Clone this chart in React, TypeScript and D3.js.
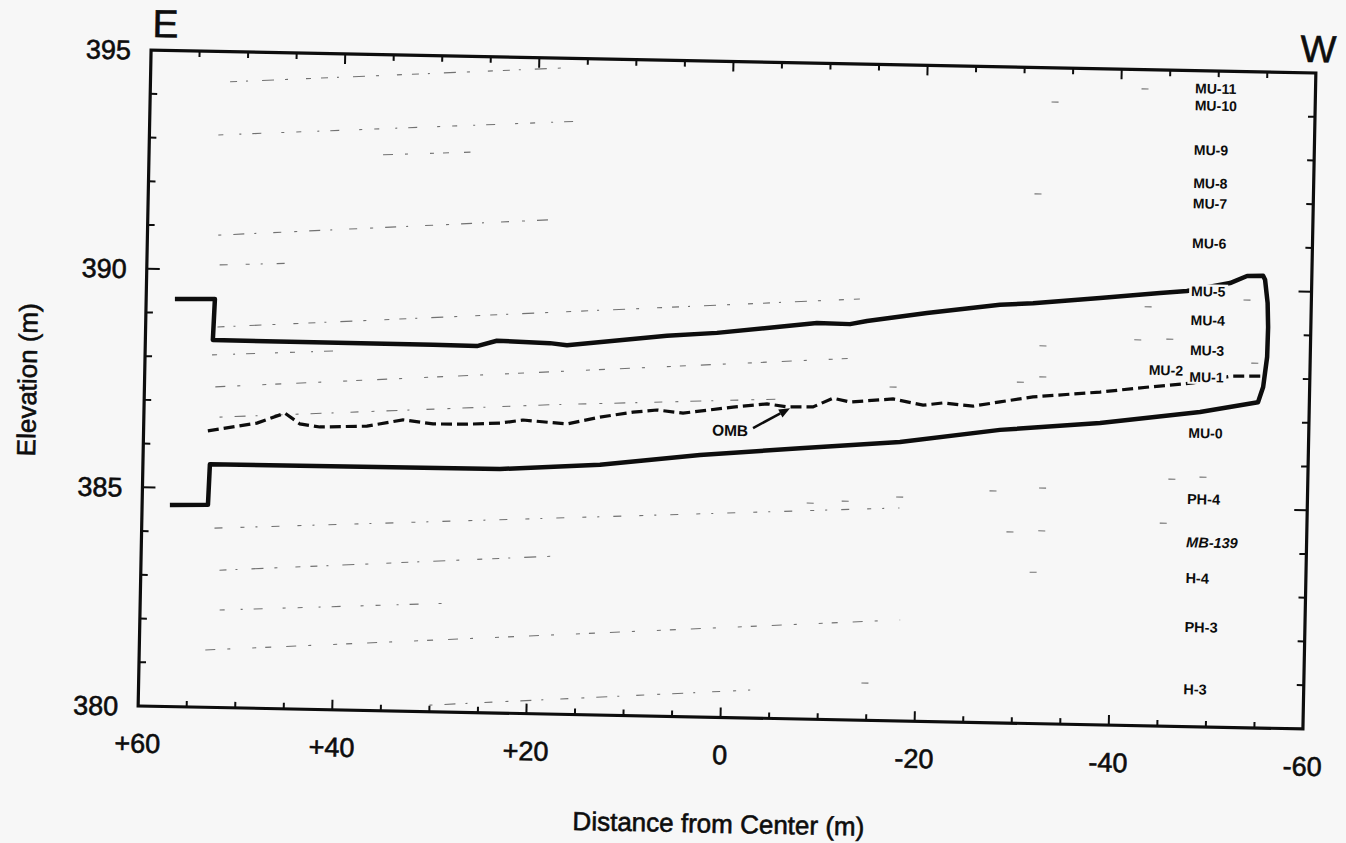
import React from "react";
import * as d3 from "d3";

// Axis ticks and their labels
const X_TICKS = [60, 40, 20, 0, -20, -40, -60];
const X_TICK_LABELS = ["+60", "+40", "+20", "0", "-20", "-40", "-60"];
const Y_TICKS = [380, 385, 390, 395];
const Y_TICK_LABELS = ["380", "385", "390", "395"];

// Excavated room outline: roof (E -> W), rounded west face, floor (W -> E)
const ROOF: [number, number][] = [
  [57.04, 389.32], [52.92, 389.34], [53.05, 388.40], [30.38, 388.39], [25.84, 388.38],
  [23.8, 388.51], [18.33, 388.48], [16.57, 388.44], [6.29, 388.7], [1.15, 388.79],
  [-5.02, 388.95], [-9.13, 389.06], [-12.53, 389.05], [-14.28, 389.13], [-20.44, 389.34],
  [-27.94, 389.56], [-31.34, 389.61], [-38.23, 389.76], [-44.4, 389.9], [-47.17, 389.96],
  [-51.59, 390.16], [-53.33, 390.33], [-54.98, 390.34],
];
const WEST_FACE: [number, number][] = [
  [-55.19, 390.25], [-55.5, 389.72], [-55.6, 389.17], [-55.56, 388.49], [-55.21, 387.8], [-54.71, 387.45],
];
const FLOOR: [number, number][] = [
  [-48.76, 387.2], [-38.49, 386.9], [-28.2, 386.7], [-17.92, 386.38], [-7.64, 386.19],
  [2.65, 385.99], [12.93, 385.72], [23.22, 385.58], [53.1, 385.56], [53.22, 384.63], [57.14, 384.61],
];

// OMB marker horizon
const OMB: [number, number][] = [
  [53.38, 386.32], [48.34, 386.52], [45.48, 386.76], [43.91, 386.52], [41.85, 386.46],
  [37.01, 386.5], [33.31, 386.66], [30.21, 386.58], [26.71, 386.59], [23.31, 386.63],
  [20.95, 386.71], [16.41, 386.64], [13.03, 386.81], [9.64, 386.94], [7.17, 387.0],
  [4.48, 386.94], [-0.65, 387.1], [-4.15, 387.19], [-6.21, 387.13], [-8.89, 387.14],
  [-10.94, 387.35], [-12.69, 387.27], [-17.12, 387.36], [-20.22, 387.23], [-22.28, 387.29],
  [-25.37, 387.23], [-28.14, 387.34], [-31.53, 387.47], [-38.42, 387.61], [-43.57, 387.75],
  [-47.99, 387.86], [-51.78, 388.03], [-55.17, 388.05],
];

// Faint mapped clay-seam traces
const SEAMS: [number, number][][] = [
  [[51.8, 394.31], [17.3, 394.78]],
  [[52.9, 393.09], [14.7, 393.58]],
  [[35.9, 392.71], [26.9, 392.81]],
  [[52.7, 390.8], [18.6, 391.3]],
  [[52.5, 390.12], [44.0, 390.2]],
  [[52.6, 388.7], [-13.5, 389.63]],
  [[53.1, 388.06], [40.0, 388.21]],
  [[52.7, 387.33], [-13.6, 388.28]],
  [[52.2, 386.64], [18.3, 387.07], [-5.0, 387.3]],
  [[52.5, 384.1], [-18.0, 384.87]],
  [[51.9, 383.14], [16.9, 383.62]],
  [[51.8, 382.23], [28.1, 382.49]],
  [[53.2, 381.31], [-18.3, 382.31]],
  [[30.0, 380.15], [-3.0, 380.64]],
];

// Isolated short seam fragments
const FRAGMENTS: [number, number][] = [
  [-42.44, 394.56], [-33.2, 394.22], [-31.63, 392.11], [-53.37, 389.78], [-43.2, 389.58],
  [-32.45, 388.64], [-42.2, 388.82], [-45.5, 388.85], [-54.3, 388.34], [-30.2, 387.8],
  [-32.5, 387.93], [-32.7, 385.39], [-46.0, 385.65], [-49.2, 385.71], [-29.43, 384.37],
  [-32.7, 384.41], [-45.2, 384.64], [-31.9, 383.46], [-17.1, 387.63], [-27.6, 385.3],
  [-18.0, 385.12], [-12.4, 385.0], [-8.8, 384.94], [-14.8, 380.85],
];

// Stratigraphic unit names and their elevations (m)
const UNIT_NAMES = ["MU-11", "MU-10", "MU-9", "MU-8", "MU-7", "MU-6", "MU-5", "MU-4", "MU-3", "MU-1", "MU-0", "PH-4", "MB-139", "H-4", "PH-3", "H-3"];
const UNIT_ELEV = [394.6, 394.21, 393.19, 392.43, 391.97, 391.06, 389.96, 389.3, 388.61, 388.0, 386.72, 385.21, 384.22, 383.4, 382.28, 380.86];
const UNIT_X = -47.6;
const MU2 = { name: "MU-2", x: -43.4, elev: 388.14 };
// labels that sit on a drawn line and clear it
const KNOCKOUT = ["MU-5", "MU-1"];

// OMB callout
const OMB_LABEL = { x: 1.46, elev: 386.57 };
const OMB_ARROW: [number, number][] = [[-2.76, 386.63], [-6.53, 387.1]];

const DASHES = [
  "7 9 2 14 12 11 3 18 5 10",
  "5 16 2 11 9 20 3 12",
  "10 12 3 22 4 9 6 15",
  "3 12 11 10 2 17 8 13",
  "8 18 4 11 2 14",
];

const FONT = "'Liberation Sans', Arial, Helvetica, sans-serif";
const PAPER = "#f7f7f7";
const INK = "#0d0d0d";

export default function App() {
  const width = 1346;
  const height = 843;
  const left = 144.5, right = 1309.5, top = 61.5, bottom = 717.5;

  const x = d3.scaleLinear().domain([60, -60]).range([left, right]);
  const y = d3.scaleLinear().domain([380, 395]).range([bottom, top]);
  const line = d3.line<[number, number]>().x((d) => x(d[0])).y((d) => y(d[1]));

  const minorX = d3.range(-55, 60, 5).filter((v) => v % 20 !== 0);
  const majorX = [-40, -20, 0, 20, 40];
  const minorY = d3.range(381, 395).filter((v) => v % 5 !== 0);
  const majorY = [385, 390];

  const outline = [...ROOF, ...WEST_FACE, ...FLOOR];

  // arrowhead for OMB callout
  const ax0 = x(OMB_ARROW[0][0]), ay0 = y(OMB_ARROW[0][1]);
  const ax1 = x(OMB_ARROW[1][0]), ay1 = y(OMB_ARROW[1][1]);
  const ang = Math.atan2(ay1 - ay0, ax1 - ax0);
  const hl = 11, hw = 4.5;
  const bx = ax1 - hl * Math.cos(ang), by = ay1 - hl * Math.sin(ang);
  const head = [
    [ax1, ay1],
    [bx + hw * Math.sin(ang), by - hw * Math.cos(ang)],
    [bx - hw * Math.sin(ang), by + hw * Math.cos(ang)],
  ].map((p) => p.join(",")).join(" ");

  const unitLabel = (name: string, lx: number, ly: number, key: string) => {
    const fs = name.startsWith("MU") ? 14 : 14.5;
    const w = name.length * 0.66 * fs;
    return (
      <g key={key}>
        {KNOCKOUT.includes(name) && (
          <rect x={x(lx) - 2} y={y(ly) - 7} width={w + 2} height={14} fill={PAPER} />
        )}
        <text
          x={x(lx)}
          y={y(ly)}
          dy="0.36em"
          fontSize={fs}
          fontWeight="bold"
          fontStyle={name.startsWith("MB") ? "italic" : "normal"}
          fill={INK}
        >
          {name}
        </text>
      </g>
    );
  };

  const heavy = { stroke: INK, strokeWidth: 0.6 };

  return (
    <div style={{ position: "absolute", left: 0, top: 0 }}>
      <svg width={width} height={height} style={{ display: "block" }} fontFamily={FONT}>
        <rect width={width} height={height} fill={PAPER} />
        <g transform="rotate(1.13, 727, 389.5)">
          {/* seam traces */}
          <g stroke="#3a3a3a" strokeWidth={1.1} fill="none" opacity={0.7}>
            {SEAMS.map((s, i) => (
              <path key={i} d={line(s) || ""} strokeDasharray={DASHES[i % DASHES.length]} />
            ))}
            {FRAGMENTS.map((f, i) => (
              <line key={"f" + i} x1={x(f[0]) - 3.5} x2={x(f[0]) + 3.5} y1={y(f[1])} y2={y(f[1])} />
            ))}
          </g>

          {/* frame */}
          <rect x={left} y={top} width={right - left} height={bottom - top} fill="none" stroke={INK} strokeWidth={3.2} />

          {/* ticks */}
          <g stroke={INK} strokeWidth={2}>
            {minorX.map((v) => (
              <g key={"mx" + v}>
                <line x1={x(v)} x2={x(v)} y1={bottom} y2={bottom - 6} />
                <line x1={x(v)} x2={x(v)} y1={top} y2={top + 6} />
              </g>
            ))}
            {majorX.map((v) => (
              <g key={"MX" + v}>
                <line x1={x(v)} x2={x(v)} y1={bottom} y2={bottom - 10} />
                <line x1={x(v)} x2={x(v)} y1={top} y2={top + 10} />
              </g>
            ))}
            {minorY.map((v) => (
              <g key={"my" + v}>
                <line x1={left} x2={left + 7} y1={y(v)} y2={y(v)} />
                <line x1={right} x2={right - 7} y1={y(v)} y2={y(v)} />
              </g>
            ))}
            {majorY.map((v) => (
              <g key={"MY" + v}>
                <line x1={left} x2={left + 13} y1={y(v)} y2={y(v)} />
                <line x1={right} x2={right - 13} y1={y(v)} y2={y(v)} />
              </g>
            ))}
          </g>

          {/* tick labels */}
          <g fontSize={27} fill={INK} {...heavy}>
            {X_TICKS.map((v, i) => (
              <text key={"xl" + v} x={x(v)} y={bottom + 37} dy="0.36em" textAnchor="middle">
                {X_TICK_LABELS[i]}
              </text>
            ))}
            {Y_TICKS.map((v, i) => (
              <text key={"yl" + v} x={left - 20} y={y(v)} dy="0.36em" textAnchor="end">
                {Y_TICK_LABELS[i]}
              </text>
            ))}
          </g>

          {/* axis titles */}
          <g fill={INK} {...heavy}>
            <text x={(left + right) / 2} y={bottom + 106} dy="0.36em" textAnchor="middle" fontSize={26}>
              Distance from Center (m)
            </text>
            <text
              transform={`translate(27, ${(top + bottom) / 2 + 4}) rotate(-90)`}
              dy="0.36em"
              textAnchor="middle"
              fontSize={26}
            >
              Elevation (m)
            </text>
            <text x={left + 1} y={top - 13} fontSize={39}>E</text>
            <text x={right + 2} y={top - 11} fontSize={38} textAnchor="middle">W</text>
          </g>

          {/* room outline */}
          <path d={line(outline) || ""} fill="none" stroke={INK} strokeWidth={4.5} strokeLinejoin="round" />

          {/* OMB horizon */}
          <path d={line(OMB) || ""} fill="none" stroke={INK} strokeWidth={3.2} strokeDasharray="11 5" />

          {/* unit labels */}
          {UNIT_NAMES.map((n, i) => unitLabel(n, UNIT_X, UNIT_ELEV[i], n))}
          {unitLabel(MU2.name, MU2.x, MU2.elev, "mu2")}

          {/* OMB callout */}
          <text x={x(OMB_LABEL.x)} y={y(OMB_LABEL.elev)} dy="0.36em" fontSize={15.5} fontWeight="bold" fill={INK}>
            OMB
          </text>
          <line x1={ax0} y1={ay0} x2={bx} y2={by} stroke={INK} strokeWidth={2.5} />
          <polygon points={head} fill={INK} />
        </g>
      </svg>
    </div>
  );
}
